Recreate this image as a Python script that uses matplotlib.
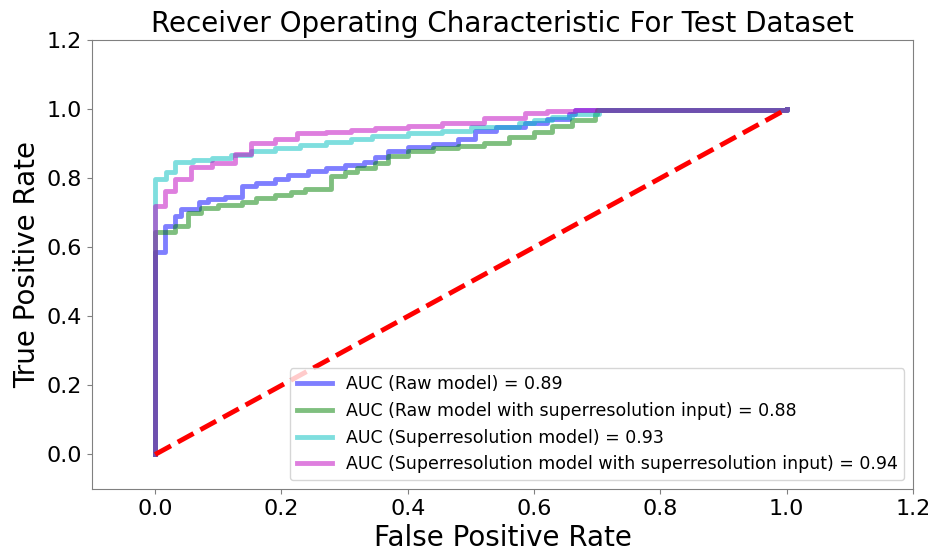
import matplotlib
matplotlib.use("Agg")
import matplotlib.pyplot as plt

labels = [
    "AUC (Raw model) = 0.89",
    "AUC (Raw model with superresolution input) = 0.88",
    "AUC (Superresolution model) = 0.93",
    "AUC (Superresolution model with superresolution input) = 0.94",
]
colors = ["blue", "green", "c", "m"]

fpr_raw = [0, 0, 0.016, 0.031, 0.041, 0.07, 0.084, 0.11, 0.137, 0.137, 0.16, 0.19, 0.21, 0.242, 0.27,
           0.30, 0.33, 0.348, 0.369, 0.40, 0.44, 0.48, 0.506, 0.54, 0.586, 0.62, 0.655, 0.665, 1.0]
tpr_raw = [0, 0.585, 0.662, 0.69, 0.71, 0.73, 0.739, 0.745, 0.754, 0.778, 0.785, 0.797, 0.808, 0.821, 0.83,
           0.838, 0.847, 0.86, 0.879, 0.89, 0.90, 0.913, 0.937, 0.948, 0.961, 0.972, 0.986, 0.998, 1.0]

fpr_rawsr = [0, 0, 0.031, 0.052, 0.073, 0.10, 0.137, 0.16, 0.19, 0.215, 0.237, 0.279, 0.30, 0.32,
             0.348, 0.369, 0.40, 0.44, 0.48, 0.52, 0.56, 0.60, 0.629, 0.66, 0.697, 0.70, 1.0]
tpr_rawsr = [0, 0.643, 0.662, 0.70, 0.715, 0.722, 0.73, 0.742, 0.752, 0.760, 0.768, 0.807, 0.818, 0.83,
             0.845, 0.865, 0.878, 0.888, 0.894, 0.903, 0.918, 0.935, 0.952, 0.968, 0.986, 0.998, 1.0]

fpr_sr = [0, 0, 0.017, 0.031, 0.06, 0.09, 0.12, 0.152, 0.19, 0.23, 0.27, 0.31, 0.343, 0.40, 0.454,
          0.50, 0.576, 0.60, 0.629, 0.66, 0.703, 1.0]
tpr_sr = [0, 0.797, 0.817, 0.847, 0.852, 0.858, 0.866, 0.879, 0.888, 0.896, 0.904, 0.912, 0.923, 0.932, 0.937,
          0.947, 0.961, 0.968, 0.976, 0.986, 0.998, 1.0]

fpr_srsr = [0, 0, 0.015, 0.031, 0.057, 0.09, 0.126, 0.152, 0.19, 0.224, 0.27, 0.31, 0.348, 0.40, 0.454,
            0.52, 0.586, 0.62, 0.665, 1.0]
tpr_srsr = [0, 0.72, 0.763, 0.797, 0.831, 0.845, 0.87, 0.903, 0.912, 0.930, 0.934, 0.939, 0.944, 0.952, 0.961,
            0.975, 0.990, 0.994, 0.998, 1.0]

curves = [(fpr_raw, tpr_raw), (fpr_rawsr, tpr_rawsr), (fpr_sr, tpr_sr), (fpr_srsr, tpr_srsr)]

fig = plt.figure(figsize=(9.36, 5.54), dpi=100)
ax = fig.add_axes([92 / 936, 1 - 489 / 554, (913 - 92) / 936, (489 - 40) / 554])

for (f, t), c, lab in zip(curves, colors, labels):
    ax.plot(f, t, color=c, alpha=0.5, lw=3.5, drawstyle="steps-post", label=lab)
ax.plot([0, 1], [0, 1], "r--", lw=3.5)

ax.set_xlim(-0.1, 1.2)
ax.set_ylim(-0.1, 1.2)
ax.set_xticks([0.0, 0.2, 0.4, 0.6, 0.8, 1.0, 1.2])
ax.set_yticks([0.0, 0.2, 0.4, 0.6, 0.8, 1.0, 1.2])
ax.tick_params(labelsize=16, color="gray")
for s in ax.spines.values():
    s.set_color("gray")
ax.set_title("Receiver Operating Characteristic For Test Dataset", fontsize=20)
ax.set_xlabel("False Positive Rate", fontsize=20)
ax.set_ylabel("True Positive Rate", fontsize=20)
ax.legend(loc="lower right", fontsize=12.5)

fig.savefig("out.png", dpi=100)
